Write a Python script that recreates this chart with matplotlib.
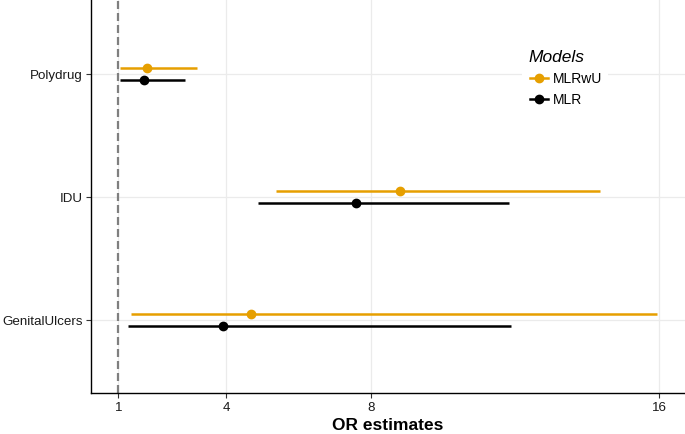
import matplotlib
matplotlib.use("Agg")
import matplotlib.pyplot as plt
from matplotlib.lines import Line2D
from matplotlib.patches import Rectangle

plt.rcParams['font.family'] = ['Liberation Sans', 'DejaVu Sans']

categories = ["GenitalUlcers", "IDU", "Polydrug"]
models = ["MLRwU", "MLR"]
colors = {"MLRwU": "#E69F00", "MLR": "#000000"}

est = {"MLRwU": [4.67, 8.80, 1.81], "MLR": [3.89, 7.58, 1.71]}
low = {"MLRwU": [1.36, 5.38, 1.05], "MLR": [1.27, 4.86, 1.05]}
high = {"MLRwU": [15.92, 14.36, 3.18], "MLR": [11.88, 11.83, 2.86]}
xticks = [1, 4, 8, 16]

W, H = 685, 435
fig = plt.figure(figsize=(W/100, H/100), dpi=100)
ax = fig.add_axes([90.5/W, 41/H, 1 - 90.5/W, 1 - 41/H])

offsets = {"MLRwU": 0.05, "MLR": -0.05}
for i, cat in enumerate(categories):
    y0 = i + 1
    for m in models:
        y = y0 + offsets[m]
        ax.plot([low[m][i], high[m][i]], [y, y], color=colors[m], lw=1.8,
                solid_capstyle='butt', zorder=3)
        ax.plot(est[m][i], y, 'o', color=colors[m], ms=6, zorder=4)

ax.axvline(1, color='#7f7f7f', lw=1.6, ls=(0, (3.6, 1.8)), zorder=2)

ax.set_xlim(0.23, 16.71)
ax.set_ylim(0.404, 3.61)
ax.set_xticks(xticks)
ax.set_xticklabels([str(t) for t in xticks])
ax.set_yticks([1, 2, 3])
ax.set_yticklabels(categories)
ax.grid(True, color='#EBEBEB', lw=0.9, zorder=0)
ax.set_axisbelow(True)
for s in ['top', 'right']:
    ax.spines[s].set_visible(False)
for s in ['left', 'bottom']:
    ax.spines[s].set_color('black')
    ax.spines[s].set_linewidth(1.0)
ax.tick_params(axis='both', length=3.6, width=0.8, color='#333333',
               labelsize=9.6, labelcolor='#1a1a1a', pad=2.2)
ax.set_xlabel("OR estimates", fontsize=12.5, fontweight='bold', labelpad=3)

# legend (manual, pixel-placed)
def fx(px):
    return px / W
def fy(py):
    return 1 - py / H

fig.add_artist(Rectangle((fx(522), fy(110)), fx(608) - fx(522), fy(45) - fy(110),
                         transform=fig.transFigure, facecolor='white',
                         edgecolor='none', zorder=5))
fig.text(fx(528), fy(62), "Models", fontsize=12.5, fontstyle='italic',
         ha='left', va='baseline', zorder=6)
for m, yy in zip(models, [78.7, 100]):
    fig.add_artist(Line2D([fx(530), fx(548)], [fy(yy), fy(yy)], color=colors[m],
                          lw=1.8, transform=fig.transFigure, zorder=6))
    fig.add_artist(Line2D([fx(539)], [fy(yy)], color=colors[m], marker='o', ms=6,
                          transform=fig.transFigure, zorder=7))
    fig.text(fx(552.5), fy(yy), m, fontsize=10, ha='left', va='center', zorder=6)

fig.savefig("out.png", dpi=100)
